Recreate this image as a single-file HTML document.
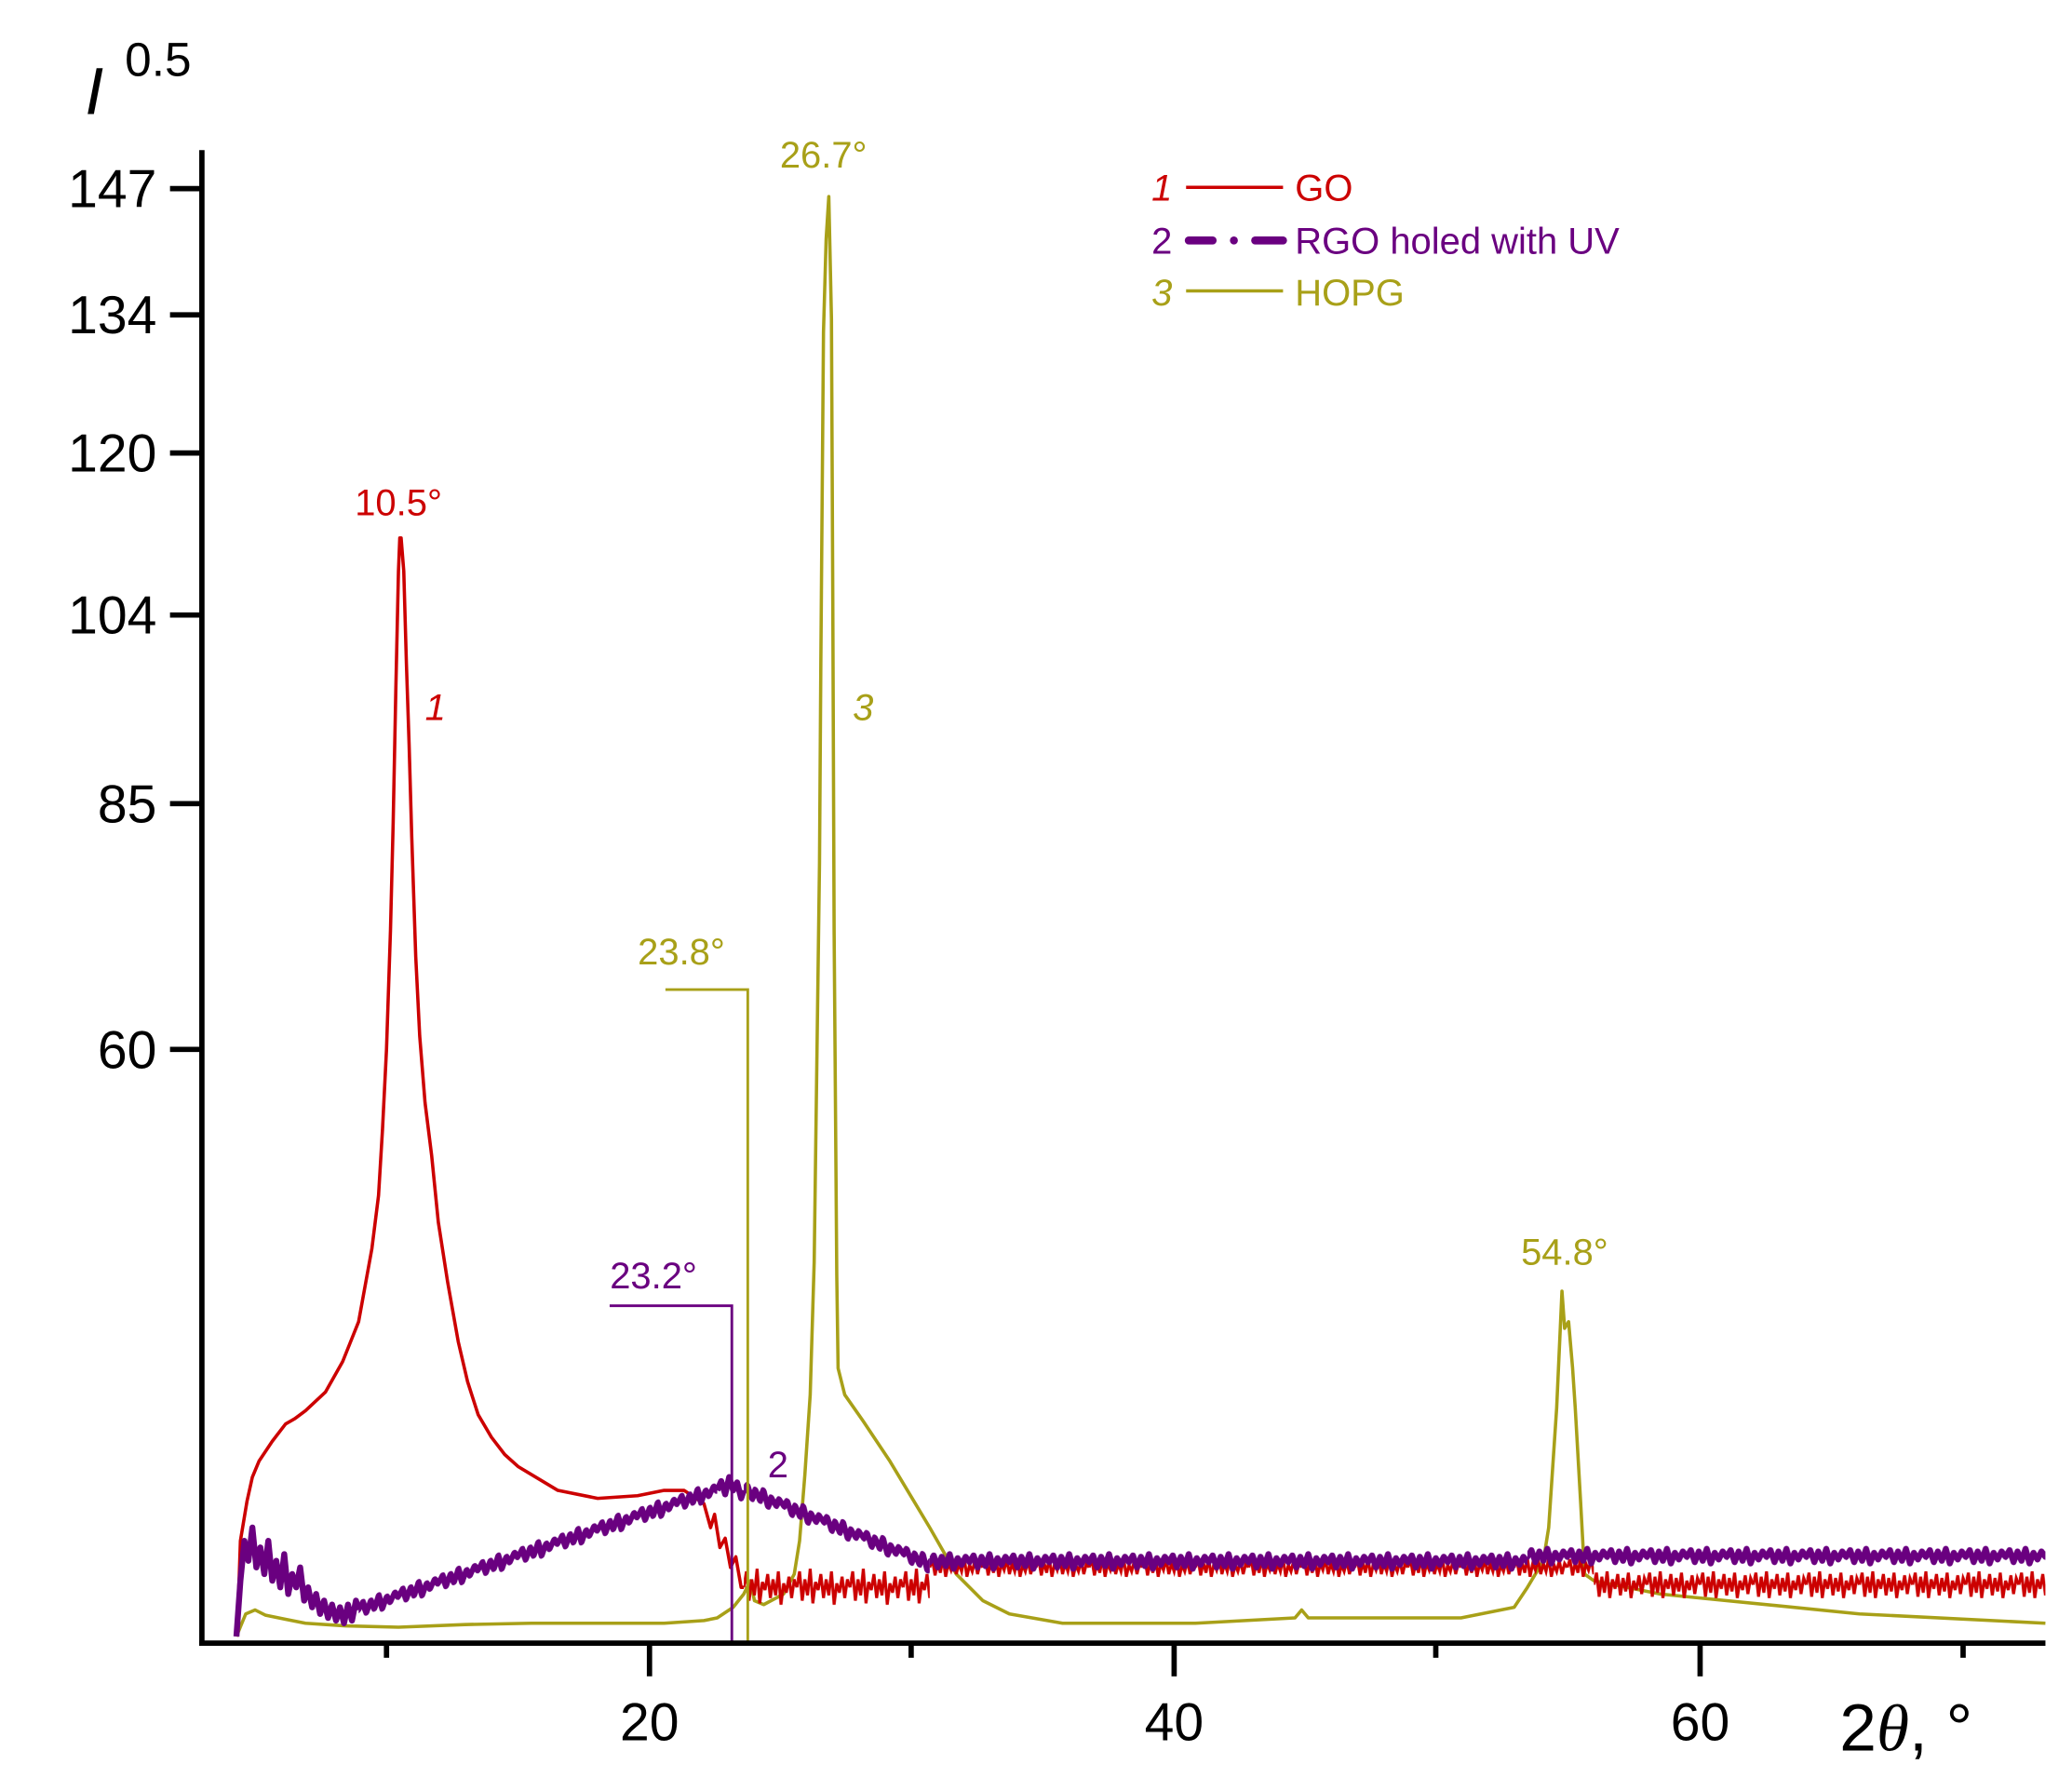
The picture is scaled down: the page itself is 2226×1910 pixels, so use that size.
<!DOCTYPE html>
<html><head><meta charset="utf-8"><style>
html,body{margin:0;padding:0;background:#fff;}
svg{display:block;font-family:"Liberation Sans",Arial,sans-serif;}
</style></head><body>
<svg xmlns="http://www.w3.org/2000/svg" width="2226" height="1910" viewBox="0 0 1560 1338.5">
<defs>
<pattern id="rA" patternUnits="userSpaceOnUse" x="0" y="0" width="40" height="40">
<polyline fill="none" stroke="#cc0000" stroke-width="2.2" points="0,20 2,8 4,30 6,14 8,26 10,6 12,32 14,16 16,22 18,10 20,28 22,14 24,26 26,8 28,33 30,17 32,24 34,12 36,28 38,14 40,20"/>
</pattern>
<pattern id="rB" patternUnits="userSpaceOnUse" x="0" y="0" width="40" height="24">
<polyline fill="none" stroke="#cc0000" stroke-width="2.2" points="0,12 2,6 4,18 6,8 8,16 10,5 12,19 14,9 16,14 18,6 20,17 22,9 24,15 26,5 28,19 30,10 32,15 34,7 36,17 38,9 40,12"/>
</pattern>
<pattern id="rC" patternUnits="userSpaceOnUse" x="0" y="0" width="40" height="30">
<polyline fill="none" stroke="#cc0000" stroke-width="2.2" points="0,15 2,6 4,24 6,9 8,21 10,5 12,25 14,11 16,18 18,7 20,23 22,10 24,20 26,6 28,25 30,12 32,19 34,8 36,22 38,10 40,15"/>
</pattern>
<pattern id="pP" patternUnits="userSpaceOnUse" x="0" y="0" width="30" height="24">
<polyline fill="none" stroke="#6a0080" stroke-width="4.5" stroke-linejoin="round" points="-3,14 0,12 3,7 6,16 9,8 12,15 15,6 18,17 21,9 24,14 27,8 30,12 33,7"/>
</pattern>
</defs>
<rect width="1560" height="1338.5" fill="#fff"/>
<!-- HOPG -->
<polyline fill="none" stroke="#a8a018" stroke-width="2.5" stroke-linejoin="round" points="178,1232 185,1215 192,1212 200,1216 215,1219 230,1222 260,1224 300,1225 350,1223 400,1222 450,1222 500,1222 530,1220 540,1218 552,1210 560,1200 565,1190 568,1205 575,1208 590,1200 598,1185 602,1160 606,1110 610,1050 613,950 615,800 617,650 618,500 620,250 622,180 624,148 626,240 627,450 628,700 630,960 631,1030 636,1050 650,1070 670,1100 685,1125 700,1150 720,1185 740,1205 760,1215 800,1222 900,1222 975,1218 980,1212 985,1218 1100,1218 1140,1210 1150,1195 1162,1175 1166,1150 1170,1090 1172,1060 1176,972 1178,1000 1181,995 1184,1030 1186,1060 1190,1130 1193,1185 1200,1190 1250,1200 1300,1205 1400,1215 1540,1222"/>
<!-- GO -->
<polyline fill="none" stroke="#cc0000" stroke-width="2.5" stroke-linejoin="round" points="178,1232 180,1190 181,1160 186,1130 190,1112 195,1100 205,1085 215,1072 222,1068 230,1062 245,1048 258,1025 270,995 280,940 285,900 288,850 291,790 294,700 296,620 298,520 300,430 301,405 302,405 304,430 306,500 308,560 310,630 313,720 316,780 320,830 325,870 330,920 337,965 345,1010 352,1040 360,1065 370,1082 380,1095 390,1104 400,1110 420,1122 450,1128 480,1126 500,1122 515,1122 530,1132 535,1150 538,1140 542,1165 546,1158 550,1180 554,1172 558,1195 560,1195"/>
<g transform="translate(560,1175)"><rect x="0" y="0" width="140" height="40" fill="url(#rA)"/></g>
<g transform="translate(700,1168)"><rect x="0" y="0" width="500" height="24" fill="url(#rB)"/></g>
<g transform="translate(1200,1178)"><rect x="0" y="0" width="340" height="30" fill="url(#rC)"/></g>
<!-- RGO -->
<polyline fill="none" stroke="#6a0080" stroke-width="4.5" stroke-linejoin="round" points="178,1232 181,1190 184,1160 187,1175 190,1150 193,1180 196,1165 199,1185 202,1160 205,1190 208,1175 211,1195 214,1170 217,1200 220,1185 223,1195 226,1180 229,1205 232,1195 235,1210 238,1200 241,1215 244,1205 247,1218 250,1208 253,1220 256,1210 259,1222 262,1208 265,1220 268,1205 270,1212"/>
<g transform="translate(270,1200) skewY(-18.4)"><rect x="0" y="0" width="270" height="24" fill="url(#pP)"/></g>
<polyline fill="none" stroke="#6a0080" stroke-width="4.5" stroke-linejoin="round" points="540,1122 543,1115 546,1125 549,1112 552,1122 555,1116 558,1128 560,1122"/>
<g transform="translate(560,1110) skewY(21.8)"><rect x="0" y="0" width="140" height="24" fill="url(#pP)"/></g>
<g transform="translate(700,1164)"><rect x="0" y="0" width="450" height="24" fill="url(#pP)"/></g>
<g transform="translate(1150,1160)"><rect x="0" y="0" width="390" height="24" fill="url(#pP)"/></g>
<rect x="1540" y="0" width="20" height="1338" fill="#fff"/>
<!-- annotation lines -->
<polyline points="459,983 551,983 551,1237" fill="none" stroke="#6a0080" stroke-width="2"/>
<polyline points="501,745 563,745 563,1237" fill="none" stroke="#a8a018" stroke-width="2"/>
<!-- axes -->
<line x1="152" y1="113" x2="152" y2="1239" stroke="#000" stroke-width="4"/>
<line x1="150" y1="1237" x2="1540" y2="1237" stroke="#000" stroke-width="4"/>
<g stroke="#000" stroke-width="4">
<line x1="128" y1="142" x2="152" y2="142"/><line x1="128" y1="237" x2="152" y2="237"/>
<line x1="128" y1="341" x2="152" y2="341"/><line x1="128" y1="463" x2="152" y2="463"/>
<line x1="128" y1="605" x2="152" y2="605"/><line x1="128" y1="790" x2="152" y2="790"/>
<line x1="489" y1="1237" x2="489" y2="1262"/><line x1="884" y1="1237" x2="884" y2="1262"/>
<line x1="1280" y1="1237" x2="1280" y2="1262"/>
<line x1="291" y1="1237" x2="291" y2="1248"/><line x1="686" y1="1237" x2="686" y2="1248"/>
<line x1="1081" y1="1237" x2="1081" y2="1248"/><line x1="1478" y1="1237" x2="1478" y2="1248"/>
</g>
<g font-size="40" fill="#000" text-anchor="end">
<text x="118" y="156">147</text><text x="118" y="251">134</text>
<text x="118" y="355">120</text><text x="118" y="477">104</text>
<text x="118" y="619">85</text><text x="118" y="804">60</text>
</g>
<g font-size="40" fill="#000" text-anchor="middle">
<text x="489" y="1310">20</text><text x="884" y="1310">40</text><text x="1280" y="1310">60</text>
</g>
<text x="1385" y="1318" font-size="50" fill="#000">2<tspan font-style="italic" font-family="Liberation Serif, serif">θ</tspan>, °</text>
<text x="64" y="86" font-size="50" font-style="italic" fill="#000">I</text>
<text x="94" y="57" font-size="36" fill="#000">0.5</text>
<g font-size="28">
<text x="620" y="126" fill="#a8a018" text-anchor="middle">26.7°</text>
<text x="300" y="388" fill="#cc0000" text-anchor="middle">10.5°</text>
<text x="513" y="726" fill="#a8a018" text-anchor="middle">23.8°</text>
<text x="492" y="970" fill="#6a0080" text-anchor="middle">23.2°</text>
<text x="1178" y="952" fill="#a8a018" text-anchor="middle">54.8°</text>
<text x="320" y="542" fill="#cc0000" font-style="italic">1</text>
<text x="642" y="542" fill="#a8a018" font-style="italic">3</text>
<text x="578" y="1112" fill="#6a0080">2</text>
</g>
<g font-size="28">
<text x="867" y="151" fill="#cc0000" font-style="italic">1</text>
<line x1="893" y1="141" x2="966" y2="141" stroke="#cc0000" stroke-width="2.5"/>
<text x="975" y="151" fill="#cc0000">GO</text>
<text x="867" y="191" fill="#6a0080">2</text>
<g stroke="#6a0080" stroke-width="6" stroke-linecap="round">
<line x1="895" y1="181" x2="913" y2="181"/><line x1="929" y1="181" x2="929" y2="181"/><line x1="945" y1="181" x2="966" y2="181"/>
</g>
<text x="975" y="191" fill="#6a0080">RGO holed with UV</text>
<text x="867" y="230" fill="#a8a018" font-style="italic">3</text>
<line x1="893" y1="219" x2="966" y2="219" stroke="#a8a018" stroke-width="2.5"/>
<text x="975" y="230" fill="#a8a018">HOPG</text>
</g>
</svg>
</body></html>
